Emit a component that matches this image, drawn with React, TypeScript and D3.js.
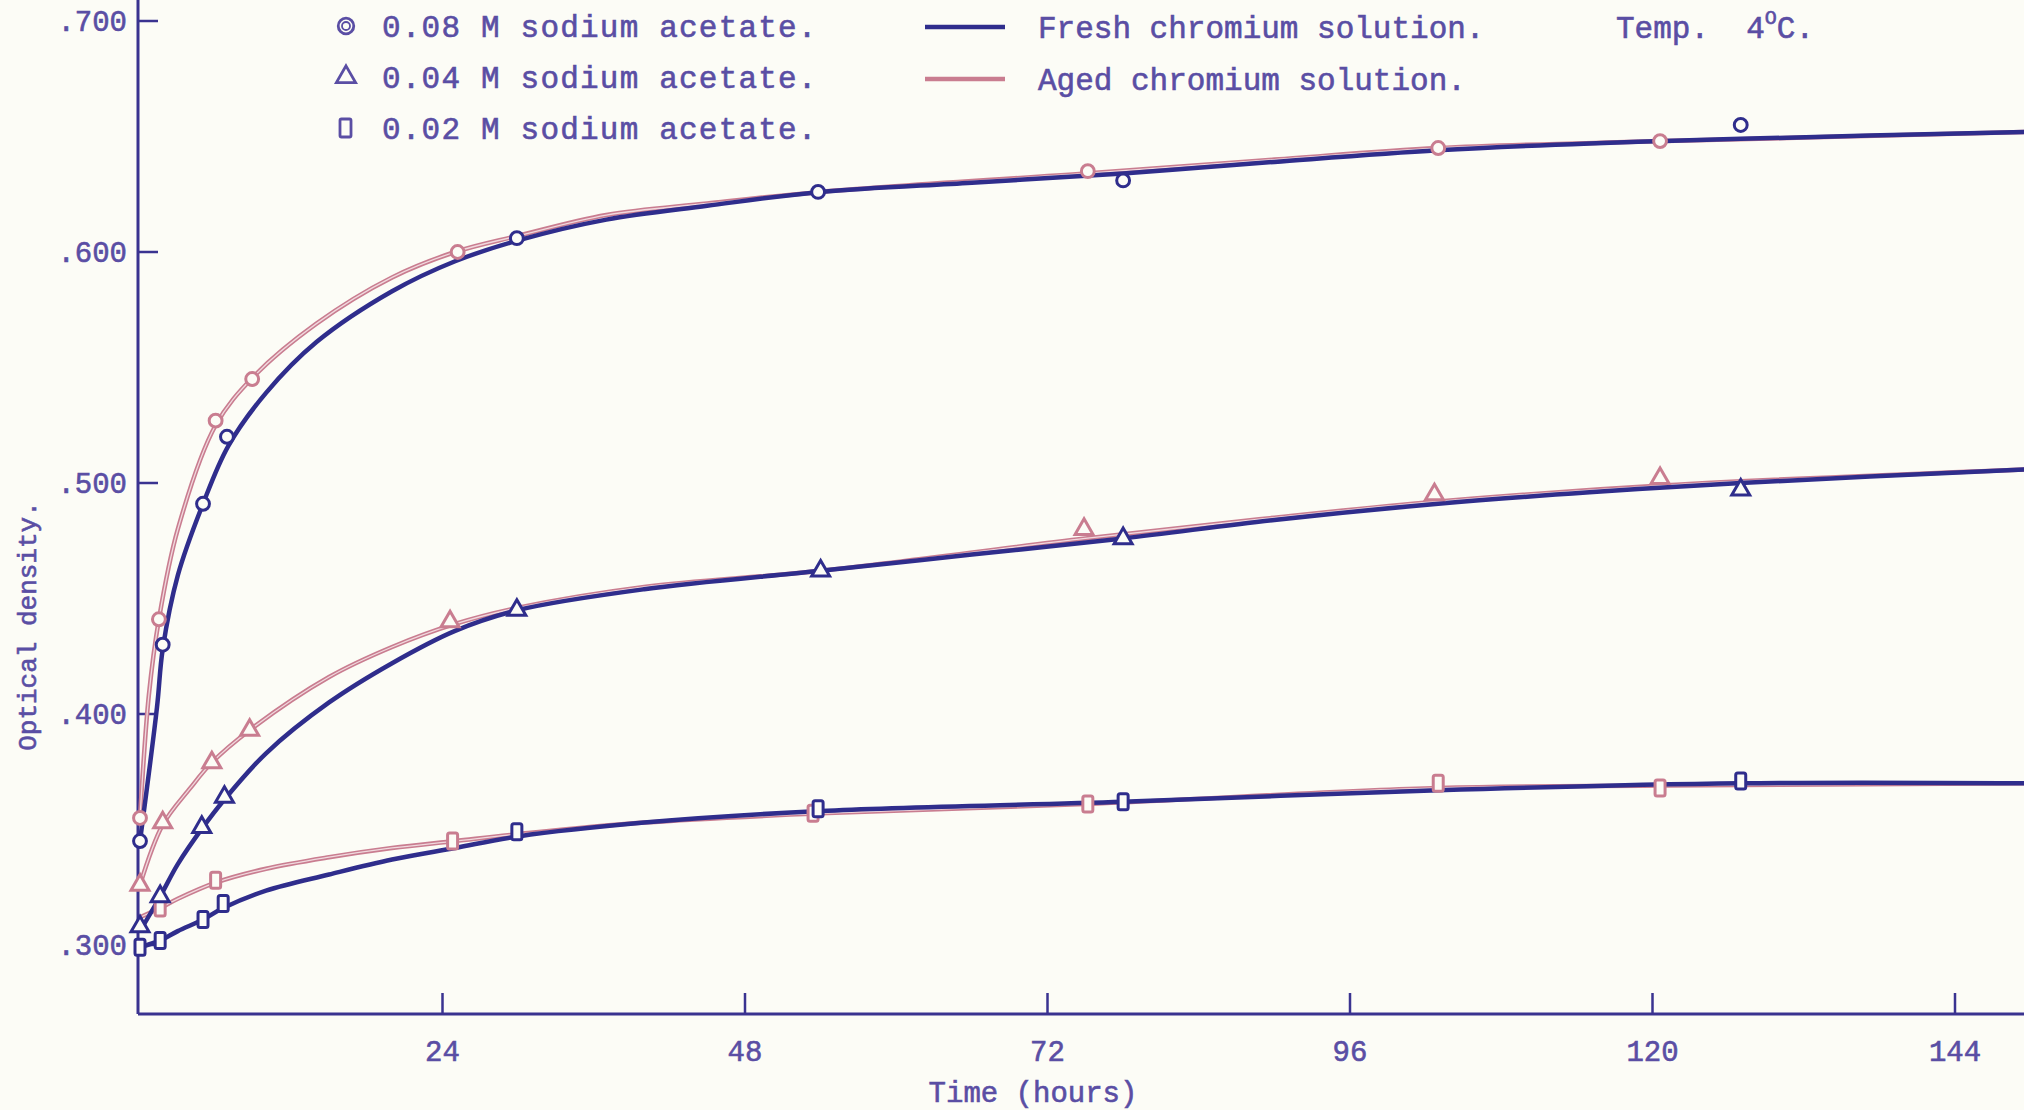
import { useEffect, useRef } from 'react'
import * as d3 from 'd3'

const WIDTH = 2024
const HEIGHT = 1110

const timeTicks = [24, 48, 72, 96, 120, 144]
const densityTicks = [0.3, 0.4, 0.5, 0.6, 0.7]
const densityLabels = ['.300', '.400', '.500', '.600', '.700']

const concentrationLabels = ['0.08 M sodium acetate.', '0.04 M sodium acetate.', '0.02 M sodium acetate.']
const solutionLabels = ['Fresh chromium solution.', 'Aged chromium solution.']

// traced curves: [hours, optical density]
const fresh08Curve = [[0, 0.345], [1.35, 0.403], [1.8, 0.428], [3, 0.46], [5, 0.491], [7, 0.516], [10, 0.539], [14, 0.561], [20, 0.583], [25, 0.596], [30, 0.605], [37, 0.614], [45, 0.62], [54, 0.626], [66, 0.63], [78, 0.634], [90, 0.639], [103, 0.644], [115, 0.647], [127, 0.649], [150, 0.652]]
const aged08Curve = [[0, 0.355], [0.7, 0.408], [1.5, 0.441], [3, 0.48], [6, 0.525], [9, 0.546], [14, 0.569], [20, 0.589], [25, 0.6], [30, 0.607], [37, 0.616], [45, 0.621], [54, 0.626], [75, 0.634], [90, 0.64], [103, 0.645], [121, 0.648], [150, 0.652]]
const fresh04Curve = [[0, 0.306], [1.6, 0.321], [3, 0.335], [5, 0.351], [6.7, 0.363], [10, 0.383], [15, 0.405], [20, 0.422], [25, 0.436], [30, 0.445], [40, 0.454], [54, 0.462], [66, 0.469], [78, 0.476], [90, 0.484], [103, 0.491], [115, 0.496], [127, 0.5], [150, 0.506]]
const aged04Curve = [[0, 0.326], [1.8, 0.352], [4, 0.368], [5.7, 0.379], [8.7, 0.393], [15, 0.416], [20, 0.429], [25, 0.439], [30, 0.446], [40, 0.455], [54, 0.462], [75, 0.476], [90, 0.485], [103, 0.492], [121, 0.499], [150, 0.506]]
const fresh02Curve = [[0, 0.299], [1.6, 0.302], [3, 0.306], [5, 0.311], [6.6, 0.316], [10, 0.3235], [15, 0.3305], [20, 0.337], [25, 0.342], [30, 0.347], [40, 0.353], [54, 0.358], [78, 0.362], [103, 0.367], [127, 0.37], [150, 0.37]]
const aged02Curve = [[0, 0.312], [1.6, 0.316], [3, 0.32], [6, 0.327], [10, 0.333], [15, 0.338], [20, 0.342], [25, 0.345], [30, 0.348], [40, 0.353], [54, 0.357], [75, 0.361], [103, 0.368], [121, 0.369], [150, 0.37]]

// plotted observations
const fresh08Points = [[0, 0.345], [1.8, 0.43], [5, 0.491], [6.9, 0.52], [29.9, 0.606], [53.8, 0.626], [78, 0.631], [127, 0.655]]
const aged08Points = [[0, 0.355], [1.5, 0.441], [6, 0.527], [8.9, 0.545], [25.2, 0.6], [75.2, 0.635], [103, 0.645], [120.6, 0.648]]
const fresh04Points = [[0, 0.308], [1.6, 0.321], [4.9, 0.351], [6.7, 0.364], [29.9, 0.445], [54, 0.462], [78, 0.476], [127, 0.497]]
const aged04Points = [[0, 0.326], [1.8, 0.353], [5.7, 0.379], [8.7, 0.393], [24.6, 0.44], [74.9, 0.48], [102.7, 0.495], [120.6, 0.502]]
const fresh02Points = [[0, 0.299], [1.6, 0.302], [5, 0.311], [6.6, 0.318], [29.9, 0.349], [53.8, 0.359], [78, 0.362], [127, 0.371]]
const aged02Points = [[1.6, 0.316], [6, 0.328], [24.8, 0.345], [53.4, 0.357], [75.2, 0.361], [103, 0.37], [120.6, 0.368]]

const INK = '#3a3390'
const TEXT = '#5a4ea4'
const FRESH = '#2f2d8c'
const AGED = '#c97d90'
const FONT = "'Liberation Mono', 'DejaVu Sans Mono', monospace"

export default function App() {
  const svgRef = useRef(null)

  useEffect(() => {
    const svg = d3.select(svgRef.current)
    svg.selectAll('*').remove()

    const x = d3.scaleLinear().domain([0, 144]).range([140, 1955])
    const y = d3.scaleLinear().domain([0.3, 0.7]).range([945, 21])
    const x0 = 138
    const yBase = 1014

    svg.append('rect').attr('width', WIDTH).attr('height', HEIGHT).attr('fill', '#fcfcf6')

    const typed = (sel, size) =>
      sel.attr('fill', TEXT).attr('stroke', TEXT).attr('stroke-width', 0.6)
        .attr('font-family', FONT).attr('font-size', size)

    // axes
    svg.append('line').attr('x1', x0).attr('x2', x0).attr('y1', 0).attr('y2', yBase)
      .attr('stroke', INK).attr('stroke-width', 3)
    svg.append('line').attr('x1', x0).attr('x2', WIDTH).attr('y1', yBase).attr('y2', yBase)
      .attr('stroke', INK).attr('stroke-width', 3)

    svg.selectAll('.ytick').data(densityTicks).join('line')
      .attr('x1', x0).attr('x2', x0 + 20)
      .attr('y1', (d) => y(d)).attr('y2', (d) => y(d))
      .attr('stroke', INK).attr('stroke-width', 2.5)

    typed(svg.selectAll('.ylab').data(densityTicks).join('text'), 29)
      .attr('x', 127).attr('y', (d) => y(d) + 10)
      .attr('text-anchor', 'end')
      .text((d, i) => densityLabels[i])

    svg.selectAll('.xtick').data(timeTicks).join('line')
      .attr('x1', (d) => x(d)).attr('x2', (d) => x(d))
      .attr('y1', yBase).attr('y2', yBase - 21)
      .attr('stroke', INK).attr('stroke-width', 2.5)

    typed(svg.selectAll('.xlab').data(timeTicks).join('text'), 29)
      .attr('x', (d) => x(d)).attr('y', 1061)
      .attr('text-anchor', 'middle')
      .text((d) => d)

    typed(svg.append('text'), 29).attr('x', 1033).attr('y', 1102)
      .attr('text-anchor', 'middle')
      .text('Time (hours)')

    typed(svg.append('text'), 26).attr('transform', 'translate(36,626) rotate(-90)')
      .attr('text-anchor', 'middle')
      .text('Optical density.')

    // curves
    const line = d3.line().x((d) => x(d[0])).y((d) => y(d[1])).curve(d3.curveCatmullRom.alpha(0.5))
    const agedCurves = [aged08Curve, aged04Curve, aged02Curve]
    const freshCurves = [fresh08Curve, fresh04Curve, fresh02Curve]

    svg.selectAll('.aged').data(agedCurves).join('path')
      .attr('d', (d) => line(d)).attr('fill', 'none')
      .attr('stroke', AGED).attr('stroke-width', 4.5)
    svg.selectAll('.agedInner').data(agedCurves).join('path')
      .attr('d', (d) => line(d)).attr('fill', 'none')
      .attr('stroke', '#f1d9de').attr('stroke-width', 1.3)
    svg.selectAll('.fresh').data(freshCurves).join('path')
      .attr('d', (d) => line(d)).attr('fill', 'none')
      .attr('stroke', FRESH).attr('stroke-width', 4.5)

    // markers
    const drawMarkers = (pts, shape, color) => {
      const g = svg.append('g')
      pts.forEach(([t, v]) => {
        const cx = x(t)
        const cy = y(v)
        if (shape === 'rect') {
          g.append('rect').attr('x', cx - 5).attr('y', cy - 8).attr('width', 10).attr('height', 16).attr('rx', 2)
            .attr('fill', '#fcfcf6').attr('stroke', color).attr('stroke-width', 3)
        } else {
          const sym = d3.symbol().type(shape === 'circle' ? d3.symbolCircle : d3.symbolTriangle).size(shape === 'circle' ? 130 : 140)
          g.append('path').attr('transform', `translate(${cx},${cy})`).attr('d', sym())
            .attr('fill', '#fcfcf6').attr('stroke', color).attr('stroke-width', 3)
        }
      })
    }
    drawMarkers(aged08Points, 'circle', AGED)
    drawMarkers(aged04Points, 'triangle', AGED)
    drawMarkers(aged02Points, 'rect', AGED)
    drawMarkers(fresh08Points, 'circle', FRESH)
    drawMarkers(fresh04Points, 'triangle', FRESH)
    drawMarkers(fresh02Points, 'rect', FRESH)

    // legend
    const legendY = [26, 77, 128]
    const shapes = ['circle', 'triangle', 'rect']
    concentrationLabels.forEach((label, i) => {
      const cy = legendY[i]
      if (shapes[i] === 'rect') {
        svg.append('rect').attr('x', 340).attr('y', cy - 9).attr('width', 11).attr('height', 18).attr('rx', 1.5)
          .attr('fill', 'none').attr('stroke', TEXT).attr('stroke-width', 2.8)
      } else {
        const sym = d3.symbol().type(shapes[i] === 'circle' ? d3.symbolCircle : d3.symbolTriangle).size(shapes[i] === 'circle' ? 190 : 160)
        svg.append('path').attr('transform', `translate(346,${cy})`).attr('d', sym())
          .attr('fill', 'none').attr('stroke', TEXT).attr('stroke-width', 2.8)
        if (shapes[i] === 'circle') {
          svg.append('circle').attr('cx', 346).attr('cy', cy).attr('r', 4)
            .attr('fill', 'none').attr('stroke', TEXT).attr('stroke-width', 1.8)
        }
      }
      typed(svg.append('text'), 31).attr('x', 382).attr('y', cy + 11)
        .attr('letter-spacing', 1.2)
        .text(label)
    })

    const solutionColors = [FRESH, AGED]
    solutionLabels.forEach((label, i) => {
      const cy = [27, 79][i]
      svg.append('line').attr('x1', 925).attr('x2', 1005).attr('y1', cy).attr('y2', cy)
        .attr('stroke', solutionColors[i]).attr('stroke-width', 4.5)
      typed(svg.append('text'), 31).attr('x', 1038).attr('y', cy + 11)
        .text(label)
    })

    const temp = typed(svg.append('text'), 31).attr('x', 1616).attr('y', 38)
    temp.append('tspan').attr('xml:space', 'preserve').text('Temp.  4')
    temp.append('tspan').attr('dy', -14).attr('font-size', 20).text('O')
    temp.append('tspan').attr('dy', 14).text('C.')
  }, [])

  return (
    <svg
      ref={svgRef}
      width={WIDTH}
      height={HEIGHT}
      style={{ position: 'absolute', left: 0, top: 0 }}
    />
  )
}
